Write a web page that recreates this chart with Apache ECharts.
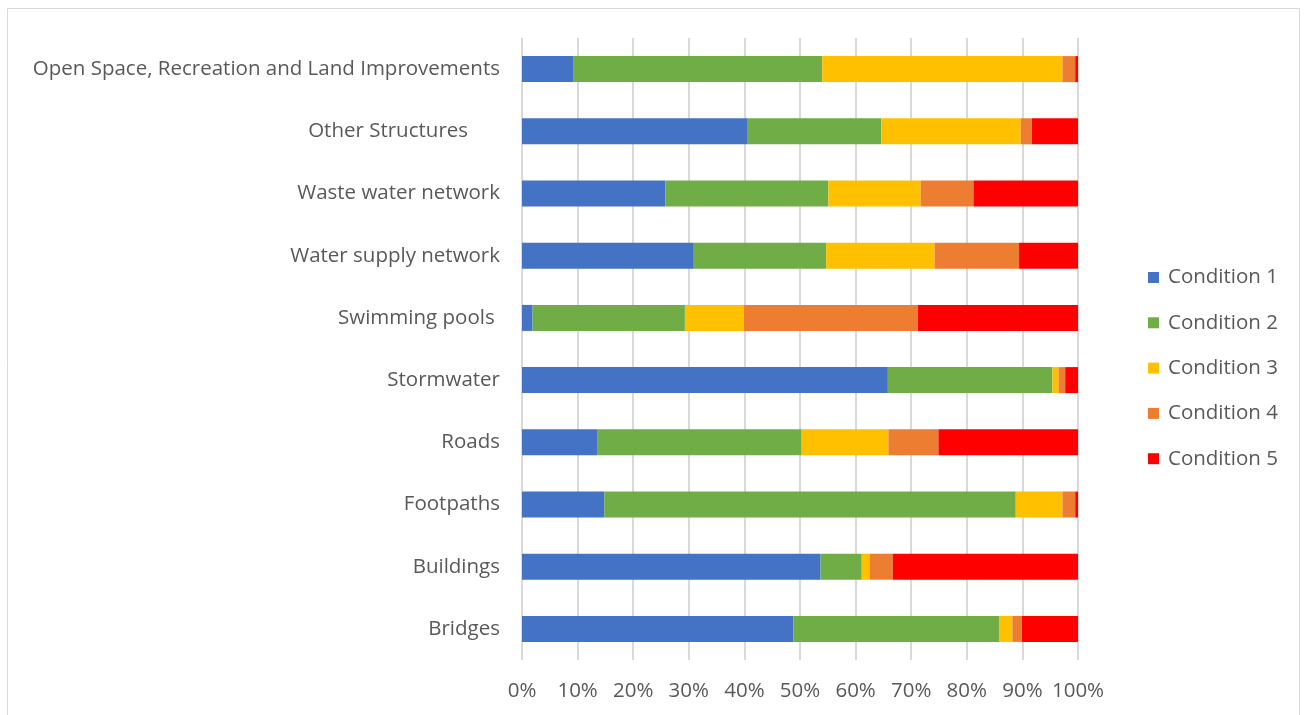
<!DOCTYPE html>
<html>
<head>
<meta charset="utf-8">
<script src="https://cdn.jsdelivr.net/npm/echarts@6/dist/echarts.min.js"></script>
<style>
  html, body { margin: 0; padding: 0; background: #ffffff; }
  #chart { width: 1306px; height: 715px; }
</style>
</head>
<body>
<div id="chart"></div>
<script>
// Asset classes, listed top to bottom
const categories = [
  'Open Space, Recreation and Land Improvements',
  'Other Structures      ',
  'Waste water network',
  'Water supply network',
  'Swimming pools ',
  'Stormwater',
  'Roads',
  'Footpaths',
  'Buildings',
  'Bridges'
];

// Share of each asset class in each condition grade (%)
const condition1 = [9.3, 40.6, 25.8, 30.9, 1.9, 65.8, 13.5, 14.8, 53.7, 48.8];
const condition2 = [44.7, 24.0, 29.3, 23.8, 27.4, 29.6, 36.8, 74.0, 7.4, 37.0];
const condition3 = [43.2, 25.1, 16.6, 19.5, 10.6, 1.1, 15.6, 8.4, 1.4, 2.4];
const condition4 = [2.3, 2.0, 9.5, 15.2, 31.3, 1.2, 9.0, 2.3, 4.2, 1.7];
const condition5 = [0.5, 8.3, 18.8, 10.6, 28.8, 2.3, 25.1, 0.5, 33.3, 10.1];

const seriesNames = ['Condition 1', 'Condition 2', 'Condition 3', 'Condition 4', 'Condition 5'];
const seriesValues = [condition1, condition2, condition3, condition4, condition5];
const seriesColors = ['#4472C4', '#70AD47', '#FFC000', '#ED7D31', '#FF0000'];

const textFont = 'Open Sans';
const textSize = 20.5;

const chart = echarts.init(document.getElementById('chart'), null, { renderer: 'canvas' });

chart.setOption({
  animation: false,
  backgroundColor: '#ffffff',
  graphic: [{
    type: 'rect',
    shape: { x: 7.5, y: 8.5, width: 1292, height: 712 },
    style: { fill: 'none', stroke: '#d9d9d9', lineWidth: 1 },
    silent: true
  }],
  grid: { left: 522, right: 228, top: 38, bottom: 55, containLabel: false },
  legend: {
    orient: 'vertical',
    left: 1143,
    top: 262,
    itemWidth: 11,
    itemHeight: 11,
    itemGap: 24.3,
    icon: 'rect',
    textStyle: { fontFamily: textFont, fontSize: textSize, color: '#595959', padding: [0, 0, 0, 4] },
    data: seriesNames
  },
  xAxis: {
    type: 'value',
    min: 0,
    max: 100,
    interval: 10,
    axisLine: { show: false },
    axisTick: { show: false },
    splitLine: { show: true, lineStyle: { color: '#d9d9d9', width: 2 } },
    axisLabel: {
      formatter: '{value}%',
      fontFamily: textFont,
      fontSize: textSize,
      color: '#595959',
      margin: 21
    }
  },
  yAxis: {
    type: 'category',
    inverse: true,
    data: categories,
    axisLine: { show: false },
    axisTick: { show: false },
    axisLabel: {
      fontFamily: textFont,
      fontSize: textSize,
      color: '#595959',
      margin: 22
    }
  },
  series: seriesNames.map((name, i) => ({
    name: name,
    type: 'bar',
    stack: 'total',
    barWidth: 26,
    itemStyle: { color: seriesColors[i] },
    data: seriesValues[i]
  }))
});
</script>
</body>
</html>
